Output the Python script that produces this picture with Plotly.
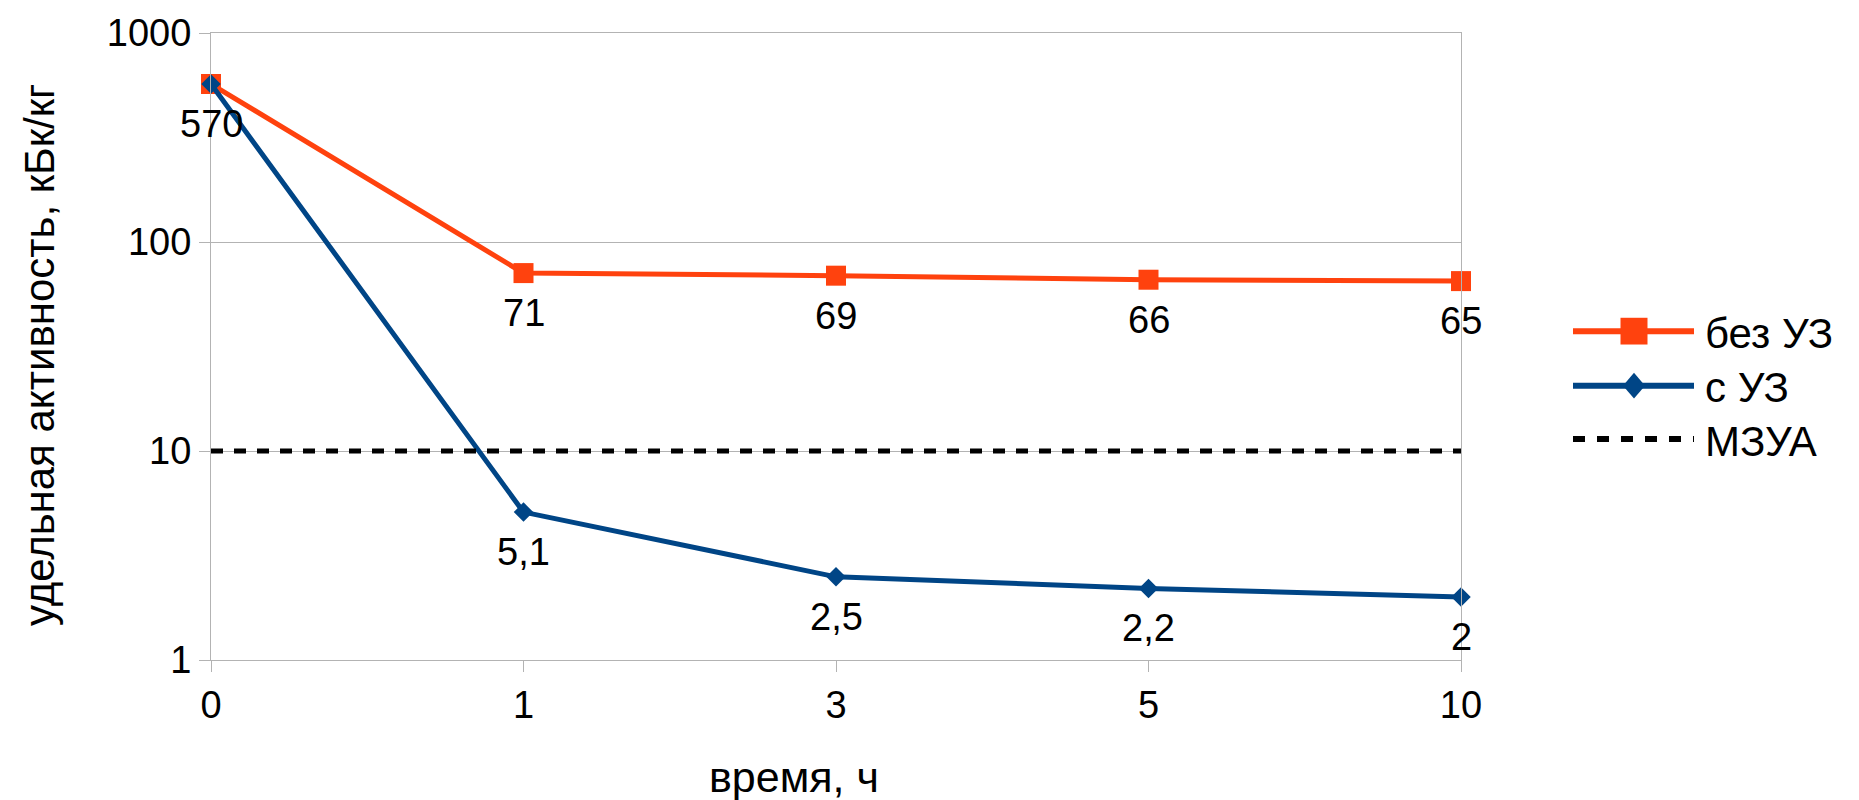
import math
import plotly.graph_objects as go

# ---- data ----
time_labels = ["0", "1", "3", "5", "10"]
bez_uz = [570, 71, 69, 66, 65]
s_uz = [570, 5.1, 2.5, 2.2, 2]
mzua = [10, 10, 10, 10, 10]
y_ticks = [1, 10, 100, 1000]
series_names = ["без УЗ", "с УЗ", "МЗУА"]

ORANGE = "#FF420E"
BLUE = "#004586"
GRID = "#b3b3b3"
FONT = "Liberation Sans, Arial, sans-serif"

W, H = 1859, 800
L, R, T, B = 211, 1461, 27, 660


def px_x(p):
    return (p - L) / (R - L)


def px_y(p):
    return (B - p) / (B - T)


def fmt(v):
    return f"{v:g}".replace(".", ",")


fig = go.Figure()
fig.add_trace(go.Scatter(
    x=time_labels, y=bez_uz, mode="lines+markers", name=series_names[0],
    line=dict(color=ORANGE, width=5),
    marker=dict(symbol="square", size=20, color=ORANGE),
    cliponaxis=False, showlegend=False))
fig.add_trace(go.Scatter(
    x=time_labels, y=s_uz, mode="lines+markers", name=series_names[1],
    line=dict(color=BLUE, width=5),
    marker=dict(symbol="diamond", size=15, color=BLUE),
    cliponaxis=False, showlegend=False))
fig.add_trace(go.Scatter(
    x=time_labels, y=mzua, mode="lines", name=series_names[2],
    line=dict(color="black", width=5, dash="12px,11px"),
    cliponaxis=False, showlegend=False))

annotations = []
LABEL_FONT = dict(size=38, color="black", family=FONT)
# data labels (the first points of both series coincide, label once)
for i, v in enumerate(bez_uz):
    annotations.append(dict(x=i, y=math.log10(v), xref="x", yref="y",
                            text=fmt(v), showarrow=False, yshift=-40,
                            xanchor="center", yanchor="middle", font=LABEL_FONT))
for i, v in enumerate(s_uz):
    if i == 0:
        continue
    annotations.append(dict(x=i, y=math.log10(v), xref="x", yref="y",
                            text=fmt(v), showarrow=False, yshift=-40,
                            xanchor="center", yanchor="middle", font=LABEL_FONT))

# axis titles
annotations.append(dict(x=px_x(794), y=px_y(778), xref="paper", yref="paper",
                        xanchor="center", yanchor="middle",
                        text="время, ч", showarrow=False,
                        font=dict(size=43, color="black", family=FONT)))
annotations.append(dict(x=px_x(40), y=px_y(352), xref="paper", yref="paper",
                        xanchor="center", yanchor="middle",
                        text="удельная активность, кБк/кг", showarrow=False, textangle=-90,
                        font=dict(size=42, color="black", family=FONT)))

# manual legend
shapes = []
leg_rows = [328, 383, 437]
leg_x0, leg_x1, leg_mx, leg_tx = 1573, 1694, 1634, 1703
colors = [ORANGE, BLUE, "black"]
for k, (name, yy, c) in enumerate(zip(series_names, leg_rows, colors)):
    shapes.append(dict(type="line", xref="paper", yref="paper",
                       x0=px_x(leg_x0), x1=px_x(leg_x1), y0=px_y(yy), y1=px_y(yy),
                       line=dict(color=c, width=6, dash="12px,12px" if k == 2 else "solid")))
    annotations.append(dict(x=px_x(leg_tx), y=px_y(yy + 2), xref="paper", yref="paper",
                            xanchor="left", yanchor="middle", text=name, showarrow=False,
                            font=dict(size=42, color="black", family=FONT)))
# legend markers
s = 13.5
shapes.append(dict(type="rect", xref="paper", yref="paper",
                   x0=px_x(leg_mx - s), x1=px_x(leg_mx + s),
                   y0=px_y(leg_rows[0] + s), y1=px_y(leg_rows[0] - s),
                   fillcolor=ORANGE, line=dict(width=0)))
dy = leg_rows[1]
dw, dh = 11, 13
path = (f"M {px_x(leg_mx - dw)} {px_y(dy)} L {px_x(leg_mx)} {px_y(dy - dh)} "
        f"L {px_x(leg_mx + dw)} {px_y(dy)} L {px_x(leg_mx)} {px_y(dy + dh)} Z")
shapes.append(dict(type="path", xref="paper", yref="paper", path=path,
                   fillcolor=BLUE, line=dict(width=0)))

fig.update_layout(
    width=W, height=H,
    margin=dict(l=L, r=W - R, t=T, b=H - B, pad=0),
    paper_bgcolor="white", plot_bgcolor="white",
    font=dict(family=FONT, color="black", size=38),
    showlegend=False,
    annotations=annotations,
    shapes=shapes,
)
fig.update_xaxes(
    type="category", range=[0, len(time_labels) - 1],
    showgrid=False, showline=True, linecolor=GRID, linewidth=1, mirror=True,
    ticks="outside", ticklen=11, tickcolor=GRID, tickwidth=1,
    tickfont=dict(size=38, color="black", family=FONT), zeroline=False,
)
fig.update_yaxes(
    type="log", range=[0, 3],
    tickvals=y_ticks, ticktext=[str(v) for v in y_ticks],
    showgrid=True, gridcolor=GRID, gridwidth=1,
    showline=True, linecolor=GRID, linewidth=1, mirror=True,
    ticks="outside", ticklen=11, tickcolor=GRID, tickwidth=1,
    tickfont=dict(size=38, color="black", family=FONT), zeroline=False,
)

fig.write_html("out.html", config={"displayModeBar": False},
               post_script="document.body.style.margin='0';document.body.style.overflow='hidden';")
